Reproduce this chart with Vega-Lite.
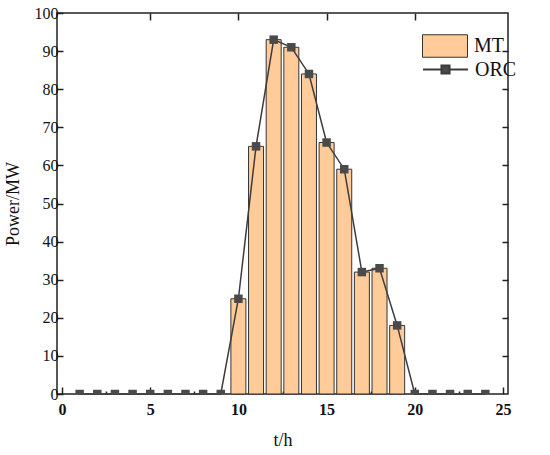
{
  "$schema": "https://vega.github.io/schema/vega-lite/v6.json",
  "width": 451,
  "height": 381,
  "autosize": {"type": "none"},
  "padding": {"left": 57, "top": 13, "right": 42, "bottom": 61},
  "background": "white",
  "config": {
    "font": "Liberation Serif",
    "view": {"stroke": "#222222", "strokeWidth": 1.5},
    "axis": {"grid": false, "domain": false, "labelFont": "Liberation Serif", "titleFont": "Liberation Serif", "labelColor": "#111111", "titleColor": "#111111", "tickColor": "#222222", "tickWidth": 1.5},
    "legend": {"labelFont": "Liberation Serif", "labelFontSize": 20, "labelColor": "#111111", "orient": "none"}
  },
  "data": {
    "values": [
      {"hour": 1, "MT": null, "ORC": 0},
      {"hour": 2, "MT": null, "ORC": 0},
      {"hour": 3, "MT": null, "ORC": 0},
      {"hour": 4, "MT": null, "ORC": 0},
      {"hour": 5, "MT": null, "ORC": 0},
      {"hour": 6, "MT": null, "ORC": 0},
      {"hour": 7, "MT": null, "ORC": 0},
      {"hour": 8, "MT": null, "ORC": 0},
      {"hour": 9, "MT": null, "ORC": 0},
      {"hour": 10, "MT": 25, "ORC": 25},
      {"hour": 11, "MT": 65, "ORC": 65},
      {"hour": 12, "MT": 93, "ORC": 93},
      {"hour": 13, "MT": 91, "ORC": 91},
      {"hour": 14, "MT": 84, "ORC": 84},
      {"hour": 15, "MT": 66, "ORC": 66},
      {"hour": 16, "MT": 59, "ORC": 59},
      {"hour": 17, "MT": 32, "ORC": 32},
      {"hour": 18, "MT": 33, "ORC": 33},
      {"hour": 19, "MT": 18, "ORC": 18},
      {"hour": 20, "MT": null, "ORC": 0},
      {"hour": 21, "MT": null, "ORC": 0},
      {"hour": 22, "MT": null, "ORC": 0},
      {"hour": 23, "MT": null, "ORC": 0},
      {"hour": 24, "MT": null, "ORC": 0}
    ]
  },
  "resolve": {"axis": {"x": "independent", "y": "independent"}},
  "layer": [
    {
      "mark": {"type": "bar", "size": 15, "stroke": "#333333", "strokeWidth": 1},
      "encoding": {
        "x": {"field": "hour", "type": "quantitative", "scale": {"domain": [0, 25], "nice": false},
          "axis": {"orient": "bottom", "title": "t/h", "values": [0, 5, 10, 15, 20, 25], "labelFontSize": 16, "labelFontWeight": "bold", "tickSize": -7, "labelPadding": 14, "titleFontSize": 18, "titleFontWeight": "normal", "titlePadding": 14}},
        "y": {"field": "MT", "type": "quantitative", "scale": {"domain": [0, 100], "nice": false},
          "axis": {"orient": "left", "title": "Power/MW", "values": [0, 10, 20, 30, 40, 50, 60, 70, 80, 90, 100], "labelFontSize": 16, "tickSize": -6, "labelPadding": 5, "titleFontSize": 18, "titleFontWeight": "normal", "titlePadding": 12}},
        "fill": {"datum": "MT", "type": "nominal", "scale": {"domain": ["MT"], "range": ["#FFCC99"]},
          "legend": {"title": null, "legendX": 365, "legendY": 10, "symbolType": "M-1,-0.5H1V0.5H-1Z", "symbolSize": 2025, "symbolStrokeColor": "#333333", "symbolStrokeWidth": 1, "labelOffset": 6}}
      }
    },
    {
      "mark": {"type": "line", "color": "#3c3c3c", "strokeWidth": 1.5},
      "encoding": {
        "x": {"field": "hour", "type": "quantitative", "axis": {"orient": "top", "title": null, "labels": false, "values": [5, 10, 15, 20], "tickSize": -7}},
        "y": {"field": "ORC", "type": "quantitative", "axis": {"orient": "right", "title": null, "labels": false, "values": [10, 20, 30, 40, 50, 60, 70, 80, 90], "tickSize": -6}},
        "stroke": {"datum": "ORC", "type": "nominal", "scale": {"domain": ["ORC"], "range": ["#3c3c3c"]},
          "legend": {"title": null, "legendX": 365, "legendY": 33, "symbolType": "M-1,0H-0.18M0.18,0H1M-0.18,-0.18H0.18V0.18H-0.18Z", "symbolSize": 2025, "symbolFillColor": "#4a4a4a", "symbolStrokeWidth": 2, "labelOffset": 6}}
      }
    },
    {
      "mark": {"type": "point", "shape": "square", "size": 72, "filled": true, "color": "#4a4a4a", "opacity": 1, "clip": true},
      "encoding": {
        "x": {"field": "hour", "type": "quantitative", "axis": {"orient": "bottom", "title": null, "labels": false, "values": [2.5, 7.5, 12.5, 17.5, 22.5], "tickSize": -3}},
        "y": {"field": "ORC", "type": "quantitative", "axis": null}
      }
    }
  ]
}
